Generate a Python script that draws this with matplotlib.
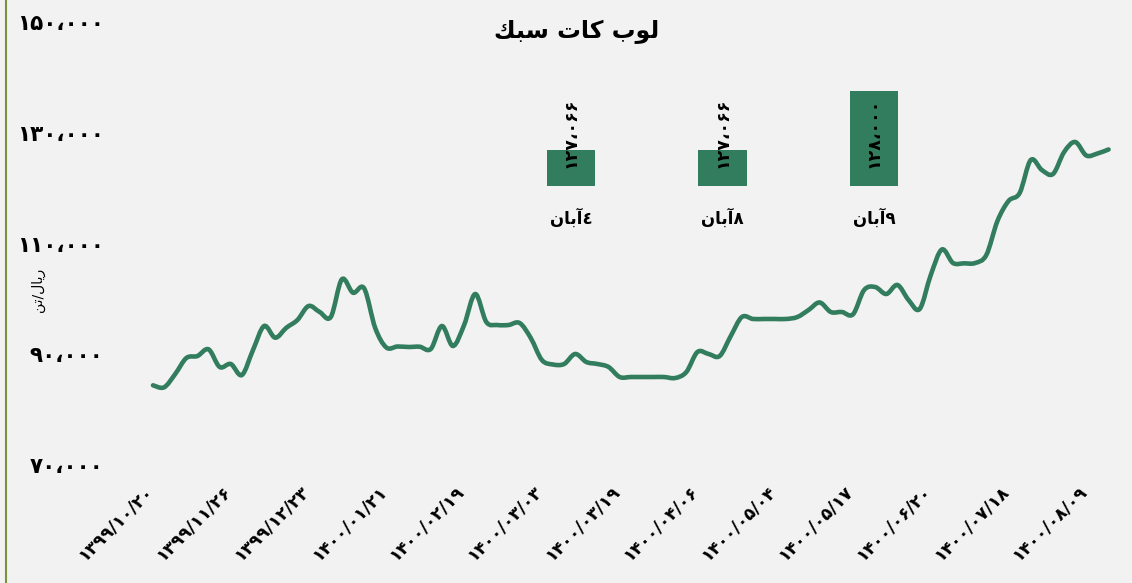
import matplotlib
matplotlib.use('Agg')
import matplotlib.pyplot as plt
import matplotlib.transforms as mtransforms
from matplotlib.lines import Line2D
from matplotlib.path import Path
from matplotlib.patches import PathPatch
from matplotlib.ticker import FuncFormatter

# price series (rial / ton), one value per category point
prices = [84390, 84030, 86430, 89320, 89680, 90890, 87700, 88240, 86250, 90770,
          95100, 92990, 94780, 96190, 98710, 97630, 96730, 103540, 101110, 101910,
          94740, 91220, 91400, 91310, 91360, 90950, 95100, 91490, 95280, 100880,
          95820, 95280, 95280, 95640, 92930, 88960, 88150, 88240, 90050, 88600,
          88240, 87700, 85890, 85890, 85890, 85890, 85890, 85710, 86790, 90410,
          90050, 89680, 93300, 96730, 96370, 96370, 96370, 96370, 96730, 97990,
          99350, 97630, 97630, 97210, 101600, 102140, 100880, 102510, 99800, 98170,
          104310, 108920, 106480, 106420, 106480, 107920, 114060, 117680, 119120, 125080,
          123270, 122550, 126520, 128330, 125890, 126250, 126980]

date_labels = ['1399/10/20', '1399/11/26', '1399/12/23', '1400/01/21', '1400/02/19',
               '1400/03/03', '1400/03/19', '1400/04/06', '1400/05/04', '1400/05/17',
               '1400/06/20', '1400/07/18', '1400/08/09']
label_step = 7

# small inset: last three days
day_names = ['٤آبان', '۸آبان', '۹آبان']
day_prices = [127066, 127066, 128000]

title = 'لوب کات سبک'
unit = 'ریال/تن'

GREEN = '#327D5E'
BG = '#F2F2F2'

# --- minimal arabic-script shaping (matplotlib has no shaping / bidi) ---
FORMS = {
    'ا': '\ufe8d\ufe8e', 'آ': '\ufe81\ufe82', 'و': '\ufeed\ufeee', 'ر': '\ufead\ufeae',
    'ب': '\ufe8f\ufe90\ufe91\ufe92', 'ت': '\ufe95\ufe96\ufe97\ufe98',
    'س': '\ufeb1\ufeb2\ufeb3\ufeb4', 'ک': '\ufed9\ufeda\ufedb\ufedc',
    'ل': '\ufedd\ufede\ufedf\ufee0', 'ن': '\ufee5\ufee6\ufee7\ufee8',
    'ی': '\ufef1\ufef2\ufef3\ufef4',
}
DUAL = set('بتسکلنی')


def farsi(s):
    out = []
    for i, c in enumerate(s):
        if c not in FORMS:
            out.append(c)
            continue
        prev = s[i - 1] if i > 0 else ''
        nxt = s[i + 1] if i + 1 < len(s) else ''
        a = prev in DUAL
        b = c in DUAL and nxt in FORMS
        f = FORMS[c]
        if a and b:
            out.append(f[3])
        elif a:
            out.append(f[1])
        elif b:
            out.append(f[2])
        else:
            out.append(f[0])
    return ''.join(reversed(out))


FA_DIGITS = str.maketrans('0123456789,', '۰۱۲۳۴۵۶۷۸۹،')


def fa_num(v):
    return f'{int(v):,}'.translate(FA_DIGITS)


def smooth_path(xv, yv):
    # bezier through every point, like a spreadsheet "smoothed line"
    pts = list(zip(xv, yv))
    n = len(pts)
    verts = [pts[0]]
    codes = [Path.MOVETO]
    for i in range(n - 1):
        p0 = pts[max(i - 1, 0)]
        p1 = pts[i]
        p2 = pts[i + 1]
        p3 = pts[min(i + 2, n - 1)]
        c1 = (p1[0] + (p2[0] - p0[0]) / 6, p1[1] + (p2[1] - p0[1]) / 6)
        c2 = (p2[0] - (p3[0] - p1[0]) / 6, p2[1] - (p3[1] - p1[1]) / 6)
        verts += [c1, c2, p2]
        codes += [Path.CURVE4] * 3
    return Path(verts, codes)


plt.rcParams['font.family'] = ['DejaVu Sans']

W, H = 1132, 583
fig = plt.figure(figsize=(W / 100, H / 100), dpi=100, facecolor=BG)

# main axes: index i sits at pixel 153 + 11.11*i, 70k at y=465, 150k at y=22
d = 11.111
x0 = 153
L, R = 130, 1120
ax = fig.add_axes([L / W, (H - 465) / H, (R - L) / W, 443 / H])
ax.set_facecolor(BG)
xs = list(range(len(prices)))
ax.add_patch(PathPatch(smooth_path(xs, prices), fill=False, edgecolor=GREEN, lw=3.3,
                       capstyle='round', joinstyle='round'))
ax.set_xlim((L - x0) / d, (R - x0) / d)
ax.set_ylim(70000, 150000)
ax.set_yticks(range(70000, 150001, 20000))
ax.yaxis.set_major_formatter(FuncFormatter(lambda v, p: fa_num(v)))
ax.tick_params(axis='y', length=0, pad=19, labelsize=15.5)
for t in ax.get_yticklabels():
    t.set_fontweight('bold')

ticks = list(range(0, len(prices), label_step))[:len(date_labels)]
ax.set_xticks(ticks)
ax.set_xticklabels([s.translate(FA_DIGITS) for s in date_labels], rotation=45,
                   ha='right', va='top', rotation_mode='anchor',
                   fontsize=12.5, fontweight='bold')
ax.tick_params(axis='x', length=0, pad=12)
shift = mtransforms.ScaledTranslation(-9 / 100, 0, fig.dpi_scale_trans)
for t in ax.get_xticklabels():
    t.set_transform(t.get_transform() + shift)
for s in ax.spines.values():
    s.set_visible(False)

# inset bars
ax2 = fig.add_axes([495.25 / W, (H - 186) / H, 454.5 / W, 126.7 / H])
ax2.patch.set_alpha(0)
ax2.bar(range(3), day_prices, width=0.317, bottom=0, color=GREEN)
ax2.set_xlim(-0.5, 2.5)
ax2.set_ylim(126500, 128500)
ax2.set_yticks([])
ax2.set_xticks(range(3))
ax2.set_xticklabels([farsi(n) for n in day_names], fontsize=12, fontweight='bold')
ax2.tick_params(axis='x', length=0, pad=16)
for s in ax2.spines.values():
    s.set_visible(False)
for i, v in enumerate(day_prices):
    ax2.annotate(fa_num(v), (i, 126500), xytext=(0, 13), textcoords='offset points',
                 rotation=90, ha='center', va='bottom', fontsize=12.5, fontweight='bold')

fig.text(577 / W, 1 - 32 / H, farsi(title), ha='center', va='center',
         fontsize=17, fontweight='bold')
fig.text(38 / W, 1 - 290 / H, farsi(unit), rotation=90, ha='center', va='center',
         fontsize=10)

# left border of the chart area
fig.add_artist(Line2D([5.5 / W, 5.5 / W], [0, 1], color='#77933C', lw=1.5))

fig.savefig('out.png', dpi=100, facecolor=BG)
